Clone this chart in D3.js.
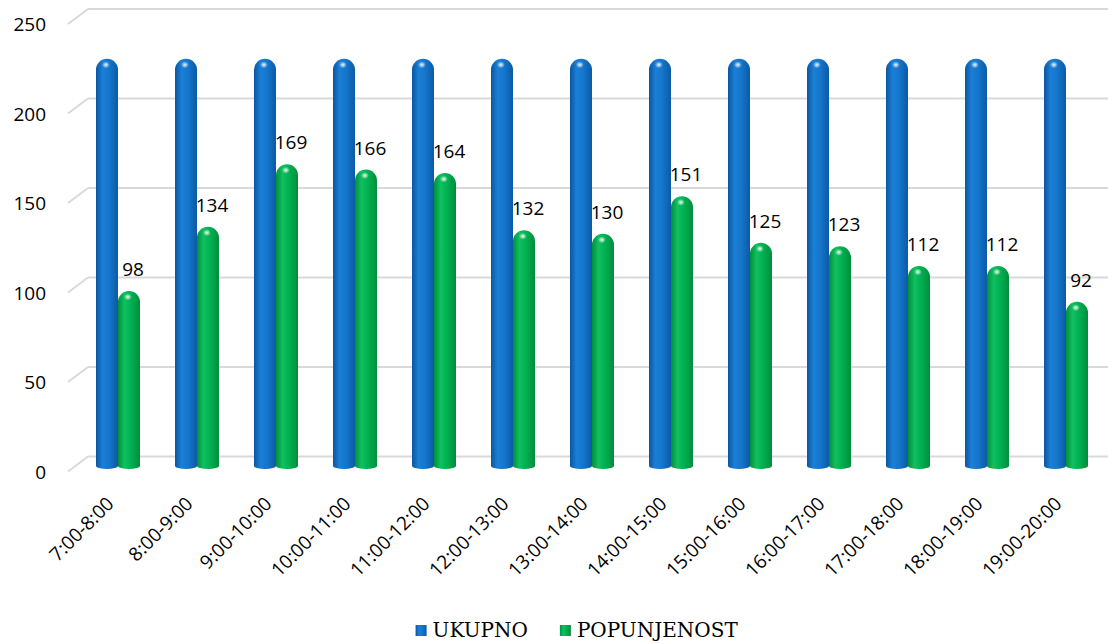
<!DOCTYPE html>
<html>
<head>
<meta charset="utf-8">
<script src="https://d3js.org/d3.v7.min.js"></script>
<style>
  body { margin: 0; background: #fff; }
  svg { display: block; }
</style>
</head>
<body>
<div id="chart"></div>
<script>
// Chart data
const categories = ['7:00-8:00', '8:00-9:00', '9:00-10:00', '10:00-11:00', '11:00-12:00', '12:00-13:00',
  '13:00-14:00', '14:00-15:00', '15:00-16:00', '16:00-17:00', '17:00-18:00', '18:00-19:00', '19:00-20:00']
const seriesNames = ['UKUPNO', 'POPUNJENOST']
const ukupno = [228, 228, 228, 228, 228, 228, 228, 228, 228, 228, 228, 228, 228]
const popunjenost = [98, 134, 169, 166, 164, 132, 130, 151, 125, 123, 112, 112, 92]
const yTicks = [0, 50, 100, 150, 200, 250]

const width = 1108
const height = 644
const depth = { dx: 20, dy: 15 } // offset between back wall and front edge

const svg = d3.select('#chart').append('svg')
  .attr('width', width)
  .attr('height', height)

// gradients for the cylinders
const defs = svg.append('defs')
const colors = {
  UKUPNO: ['#0a56a0', '#1a7fd6', '#1576cb', '#0b5aa5'],
  POPUNJENOST: ['#008f3c', '#10c060', '#00b050', '#008d3c']
}
seriesNames.forEach((s, i) => {
  const g = defs.append('linearGradient').attr('id', 'grad' + i)
    .attr('x1', 0).attr('x2', 1).attr('y1', 0).attr('y2', 0)
  const c = colors[s]
  g.append('stop').attr('offset', '0%').attr('stop-color', c[0])
  g.append('stop').attr('offset', '30%').attr('stop-color', c[1])
  g.append('stop').attr('offset', '60%').attr('stop-color', c[2])
  g.append('stop').attr('offset', '100%').attr('stop-color', c[3])
})
const hl = defs.append('radialGradient').attr('id', 'shine')
hl.append('stop').attr('offset', '0%').attr('stop-color', '#fff').attr('stop-opacity', 0.95)
hl.append('stop').attr('offset', '100%').attr('stop-color', '#fff').attr('stop-opacity', 0)

// scales
const yScale = d3.scaleLinear().domain([0, 250]).range([456.5, 9]) // back wall
const barY = d3.scaleLinear().domain([0, 250]).range([466, 19.5]) // bars sit in the middle
const xScale = d3.scaleBand().domain(categories).range([78.5, 1105.5])
const sScale = d3.scaleBand().domain(seriesNames).range([-22, 22])

// gridlines on the back wall plus the side wall diagonals
const grid = svg.append('g')
grid.selectAll('line.back')
  .data(yTicks)
  .join('line')
  .attr('class', 'back')
  .attr('x1', 88).attr('x2', width)
  .attr('y1', d => yScale(d)).attr('y2', d => yScale(d))
  .attr('stroke', '#d9d9d9').attr('stroke-width', 2)
grid.selectAll('line.side')
  .data(yTicks)
  .join('line')
  .attr('class', 'side')
  .attr('x1', 88 - depth.dx).attr('x2', 88)
  .attr('y1', d => yScale(d) + depth.dy).attr('y2', d => yScale(d))
  .attr('stroke', '#d9d9d9').attr('stroke-width', 2)

// y axis labels
svg.append('g')
  .selectAll('text')
  .data(yTicks)
  .join('text')
  .attr('x', 46)
  .attr('y', d => yScale(d) + depth.dy + 2)
  .attr('text-anchor', 'end')
  .attr('dominant-baseline', 'middle')
  .attr('font-family', 'Open Sans, sans-serif')
  .attr('font-size', 19)
  .attr('fill', '#000')
  .text(d => d)

function cylinder (x0, w, yTop, yBot) {
  const r = w / 2
  const ry = r
  return `M${x0},${yTop + ry} A${r},${ry} 0 0 1 ${x0 + w},${yTop + ry} L${x0 + w},${yBot} A${r},3 0 0 1 ${x0},${yBot} Z`
}

const rows = categories.map((c, i) => ({ cat: c, values: [ukupno[i], popunjenost[i]] }))

const groups = svg.append('g')
  .selectAll('g')
  .data(rows)
  .join('g')
  .attr('transform', d => `translate(${xScale(d.cat) + xScale.bandwidth() / 2},0)`)

seriesNames.forEach((s, si) => {
  const bw = sScale.bandwidth()
  groups.append('path')
    .attr('d', d => cylinder(sScale(s), bw, barY(d.values[si]), barY(0)))
    .attr('fill', `url(#grad${si})`)
  groups.append('ellipse')
    .attr('cx', sScale(s) + bw * 0.45)
    .attr('cy', d => barY(d.values[si]) + 6)
    .attr('rx', 4).attr('ry', 3.5)
    .attr('fill', 'url(#shine)')
})

// data labels for POPUNJENOST
groups.append('text')
  .attr('x', sScale('POPUNJENOST') + sScale.bandwidth() / 2 + 4)
  .attr('y', d => barY(d.values[1]) - 15)
  .attr('text-anchor', 'middle')
  .attr('font-family', 'Open Sans, sans-serif')
  .attr('font-size', 19)
  .attr('fill', '#000')
  .text(d => d.values[1])

// category labels, rotated
svg.append('g')
  .selectAll('text')
  .data(categories)
  .join('text')
  .attr('transform', d => `translate(${xScale(d) + xScale.bandwidth() / 2 - 3},505) rotate(-45)`)
  .attr('text-anchor', 'end')
  .attr('font-family', 'Open Sans, sans-serif')
  .attr('font-size', 19)
  .attr('fill', '#000')
  .text(d => d)

// legend
const legend = svg.append('g')
const items = legend.selectAll('g')
  .data(seriesNames)
  .join('g')
items.append('rect')
  .attr('width', 11).attr('height', 11)
  .attr('y', -12)
  .attr('fill', (d, i) => `url(#grad${i})`)
items.append('text')
  .attr('x', 17)
  .attr('font-family', 'DejaVu Serif, serif')
  .attr('font-size', 20)
  .attr('fill', '#000')
  .text(d => d)

let xOff = 0
items.each(function () {
  const w = this.getBBox().width
  d3.select(this).attr('transform', `translate(${xOff},0)`)
  xOff += w + 32
})
const total = xOff - 32
legend.attr('transform', `translate(${577 - total / 2},637)`)
</script>
</body>
</html>
